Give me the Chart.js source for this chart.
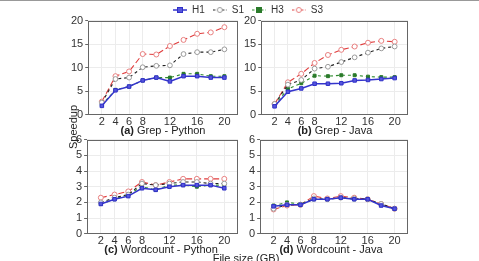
<!DOCTYPE html>
<html>
<head>
<meta charset="utf-8">
<script src="https://cdn.jsdelivr.net/npm/chart.js@4"></script>
<style>
  html, body { margin: 0; padding: 0; background: #fff; }
  body { width: 479px; height: 261px; position: relative; overflow: hidden; }
  canvas { position: absolute; }
  .topline { position: absolute; left: 0; top: 0; width: 479px; height: 1px; background: #999; }
  .lbl { position: absolute; font: 11px "Liberation Sans", Arial, sans-serif; color: #222; white-space: nowrap; transform: translateX(-50%); }
  .ylbl { position: absolute; font: 11px "Liberation Sans", Arial, sans-serif; color: #222; white-space: nowrap; transform: translate(-50%, -50%) rotate(-90deg); }
</style>
</head>
<body>
<div class="topline"></div>
<canvas id="legend"></canvas>
<canvas id="grepPy"></canvas>
<canvas id="grepJava"></canvas>
<canvas id="wcPy"></canvas>
<canvas id="wcJava"></canvas>
<div class="lbl" style="left:163px; top:124px"><b>(a)</b> Grep - Python</div>
<div class="lbl" style="left:335px; top:124px"><b>(b)</b> Grep - Java</div>
<div class="lbl" style="left:161px; top:243px"><b>(c)</b> Wordcount - Python</div>
<div class="lbl" style="left:331px; top:243px"><b>(d)</b> Wordcount - Java</div>
<div class="lbl" style="left:246px; top:252px">File size (GB)</div>
<div class="ylbl" style="left:73px; top:127px">Speedup</div>
<script>
const fileSizes = [2, 4, 6, 8, 10, 12, 14, 16, 18, 20];
const xTickLabels = [2, 4, 6, 8, 12, 16, 20];
const seriesNames = ['H1', 'S1', 'H3', 'S3'];

const grepPyH1 = [1.9, 5.2, 6.0, 7.3, 7.9, 7.1, 8.2, 8.2, 7.9, 7.9];
const grepPyS1 = [2.6, 7.6, 7.9, 10.1, 10.4, 10.5, 12.9, 13.3, 13.3, 13.9];
const grepPyH3 = [2.1, 5.3, 6.0, 7.3, 7.9, 7.9, 8.7, 8.7, 8.2, 8.2];
const grepPyS3 = [2.8, 8.2, 9.2, 12.9, 12.8, 14.6, 15.9, 17.2, 17.5, 18.6];

const grepJavaH1 = [1.8, 4.9, 5.6, 6.6, 6.6, 6.7, 7.3, 7.4, 7.6, 7.8];
const grepJavaS1 = [2.3, 6.4, 7.4, 9.8, 10.2, 11.2, 12.2, 13.2, 14.1, 14.5];
const grepJavaH3 = [2.1, 5.5, 6.7, 8.3, 8.2, 8.4, 8.4, 8.1, 8.0, 8.0];
const grepJavaS3 = [2.3, 6.9, 8.7, 11.0, 12.7, 13.8, 14.5, 15.3, 15.7, 15.5];

const wcPyH1 = [1.9, 2.2, 2.4, 2.9, 2.8, 3.0, 3.1, 3.1, 3.1, 2.9];
const wcPyS1 = [2.0, 2.3, 2.5, 3.2, 3.1, 3.2, 3.3, 3.3, 3.2, 3.2];
const wcPyH3 = [1.9, 2.2, 2.5, 3.0, 2.8, 3.1, 3.1, 3.0, 3.1, 3.1];
const wcPyS3 = [2.3, 2.5, 2.7, 3.3, 3.1, 3.3, 3.5, 3.5, 3.5, 3.5];

const wcJavaH1 = [1.75, 1.85, 1.85, 2.2, 2.2, 2.3, 2.2, 2.2, 1.8, 1.6];
const wcJavaS1 = [1.6, 1.85, 1.85, 2.25, 2.2, 2.3, 2.25, 2.2, 1.9, 1.6];
const wcJavaH3 = [1.8, 2.0, 1.9, 2.2, 2.2, 2.3, 2.2, 2.2, 1.85, 1.6];
const wcJavaS3 = [1.55, 1.8, 1.85, 2.4, 2.25, 2.4, 2.3, 2.2, 1.9, 1.6];

const FONT = { family: '"Liberation Sans", Arial, sans-serif', size: 11 };

// line / marker look for each series, same order as seriesNames
const looks = [
    { line: '#3434cc', dash: [], width: 1.5, style: 'rect', fill: '#5656dc', stroke: '#3030c8', r: 2.5 },
    { line: '#222222', dash: [3, 3], width: 1.1, style: 'circle', fill: '#ffffff', stroke: '#9a9a9a', r: 2.4 },
    { line: '#2e8b2e', dash: [3, 3], width: 1.1, style: 'rect', fill: '#2a7a2a', stroke: '#2a7a2a', r: 2.1 },
    { line: '#e03c3c', dash: [6, 3], width: 1.1, style: 'circle', fill: '#ffffff', stroke: '#e88080', r: 2.5 }
];

const boxPlugin = {
    id: 'box',
    beforeDatasetsDraw(chart) {
        const a = chart.chartArea, c = chart.ctx;
        c.save();
        c.strokeStyle = '#666';
        c.lineWidth = 1;
        c.strokeRect(Math.round(a.left) + 0.5, Math.round(a.top) + 0.5,
            Math.round(a.right - a.left) - 1, Math.round(a.bottom - a.top) - 1);
        c.restore();
    }
};

function panelConfig(series, yMax, yStep) {
    return {
        type: 'line',
        data: {
            datasets: series.map((vals, i) => ({
                label: seriesNames[i],
                data: fileSizes.map((x, j) => ({ x: x, y: vals[j] })),
                borderColor: looks[i].line,
                borderDash: looks[i].dash,
                borderWidth: looks[i].width,
                pointStyle: looks[i].style,
                pointRadius: looks[i].r,
                pointBackgroundColor: looks[i].fill,
                pointBorderColor: looks[i].stroke,
                pointBorderWidth: 1,
                tension: 0
            }))
        },
        options: {
            responsive: false,
            maintainAspectRatio: false,
            animation: false,
            layout: { padding: { top: 7, right: 6, left: 0, bottom: 0 } },
            plugins: { legend: { display: false }, tooltip: { enabled: false } },
            scales: {
                x: {
                    type: 'linear', min: 0, max: 22,
                    afterBuildTicks: s => { s.ticks = xTickLabels.map(v => ({ value: v })); },
                    grid: { color: '#ececec', drawTicks: false },
                    border: { display: false },
                    ticks: { font: FONT, color: '#333', padding: 1, maxRotation: 0, autoSkip: false }
                },
                y: {
                    min: 0, max: yMax,
                    grid: { color: '#ececec', tickColor: '#666', tickLength: 3 },
                    border: { display: false },
                    ticks: { font: FONT, color: '#333', padding: 2, stepSize: yStep, autoSkip: false }
                }
            }
        },
        plugins: [boxPlugin]
    };
}

// draw once, measure the plot area, then redraw with a canvas sized so the plot box lands where it should
function makePanel(id, plotLeft, plotTop, plotW, plotH, series, yMax, yStep) {
    const cv = document.getElementById(id);
    const gw = plotW + 40, gh = plotH + 30;
    cv.width = gw; cv.height = gh;
    let chart = new Chart(cv, panelConfig(series, yMax, yStep));
    let a = chart.chartArea;
    const nw = Math.round(gw + plotW - (a.right - a.left));
    const nh = Math.round(gh + plotH - (a.bottom - a.top));
    chart.destroy();
    cv.style.width = ''; cv.style.height = '';
    cv.width = nw; cv.height = nh;
    chart = new Chart(cv, panelConfig(series, yMax, yStep));
    a = chart.chartArea;
    cv.style.left = Math.round(plotLeft - a.left) + 'px';
    cv.style.top = Math.round(plotTop - a.top) + 'px';
}

makePanel('grepPy', 88, 21, 150, 94, [grepPyH1, grepPyS1, grepPyH3, grepPyS3], 20, 5);
makePanel('grepJava', 261, 21, 147, 94, [grepJavaH1, grepJavaS1, grepJavaH3, grepJavaS3], 20, 5);
makePanel('wcPy', 87, 140, 151, 94, [wcPyH1, wcPyS1, wcPyH3, wcPyS3], 6, 1);
makePanel('wcJava', 260, 140, 148, 94, [wcJavaH1, wcJavaS1, wcJavaH3, wcJavaS3], 6, 1);

// legend swatches: little line with the marker in the middle
function swatch(lk) {
    const c = document.createElement('canvas');
    c.width = 14; c.height = 8;
    const g = c.getContext('2d');
    g.strokeStyle = lk.line;
    g.lineWidth = lk.width;
    g.setLineDash(lk.dash.length ? [2.5, 2] : []);
    g.beginPath(); g.moveTo(0, 4); g.lineTo(14, 4); g.stroke();
    g.setLineDash([]);
    g.fillStyle = lk.fill;
    g.strokeStyle = lk.stroke;
    g.lineWidth = 1;
    if (lk.style === 'rect') {
        g.fillRect(4.5, 1.5, 5, 5); g.strokeRect(4.5, 1.5, 5, 5);
    } else {
        g.beginPath(); g.arc(7, 4, 2.5, 0, Math.PI * 2); g.fill(); g.stroke();
    }
    return c;
}

const lg = document.getElementById('legend');
lg.width = 400;
lg.height = 40;
const legendChart = new Chart(lg, {
    type: 'line',
    data: { datasets: seriesNames.map(n => ({ label: n, data: [] })) },
    options: {
        responsive: false,
        maintainAspectRatio: false,
        animation: false,
        scales: { x: { display: false }, y: { display: false } },
        plugins: {
            tooltip: { enabled: false },
            legend: {
                position: 'top',
                labels: {
                    usePointStyle: true,
                    pointStyleWidth: 14,
                    padding: 8,
                    font: { family: FONT.family, size: 10 },
                    color: '#333',
                    generateLabels: () => seriesNames.map((n, i) => ({
                        text: n, pointStyle: swatch(looks[i]), fontColor: '#333',
                        datasetIndex: i, hidden: false, lineWidth: 0
                    }))
                }
            }
        }
    }
});
const hb = legendChart.legend.legendHitBoxes[0];
lg.style.left = Math.round(173 - hb.left) + 'px';
lg.style.top = Math.round(10 - (hb.top + hb.height / 2)) + 'px';
</script>
</body>
</html>
